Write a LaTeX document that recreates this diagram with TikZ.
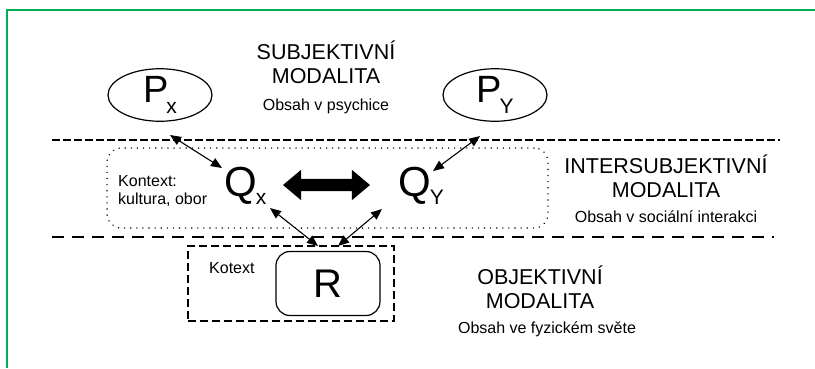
\documentclass[tikz,border=0pt]{standalone}
\usepackage{fontspec}
\setmainfont{Liberation Sans}
\usetikzlibrary{shapes.geometric,shapes.arrows,arrows.meta}
\definecolor{framegreen}{RGB}{0,176,80}
\begin{document}
\begin{tikzpicture}[x=1pt,y=-1pt,
  % multi-line nodes: anchor=base sits on the baseline of the last line
  heading/.style={font=\fontsize{21.5}{23.5}\selectfont, align=center, inner sep=0, anchor=base},
  note/.style={font=\fontsize{16}{17.5}\selectfont, inner sep=0, anchor=base},
  oval/.style={ellipse, draw, line width=1.2pt, minimum width=104pt, minimum height=52pt, inner sep=0},
  bigletter/.style={font=\fontsize{42}{42}\selectfont, inner sep=0},
  link/.style={{Triangle[length=11pt,width=9pt]}-{Triangle[length=11pt,width=9pt]}, line width=1.1pt},
  divider/.style={line width=1.5pt},
]
\useasboundingbox (0,0) rectangle (815,368);
\fill[white] (0,0) rectangle (815,368);
% frame
\draw[framegreen, line width=2.2pt] (7,368) -- (7,10) -- (815,10);

% modality boundaries
\draw[divider, dash pattern=on 8pt off 3pt] (52,140) -- (780,140);
\draw[divider, dash pattern=on 12pt off 8pt] (52,237) -- (774,237);

% context and cotext frames
\node[draw, line width=1.5pt, dash pattern=on 0.1pt off 6pt, line cap=round, rounded corners=14pt,
      minimum width=441pt, minimum height=80pt, inner sep=0] (ctxbox) at (327.5,188) {};
\node[draw, line width=1.2pt, dash pattern=on 8pt off 4pt,
      minimum width=206pt, minimum height=75pt, inner sep=0] (kotbox) at (291,283.5) {};
\node[note, align=left, anchor=base west] (ctx) at (118,204) {Kontext:\\kultura, obor};
\node[note, anchor=base west] (kot) at (209,273) {Kotext};

% modality labels
\node[heading] (subj) at (326,83) {SUBJEKTIVNÍ\\MODALITA};
\node[note] (subjn) at (326,110) {Obsah v psychice};
\node[heading] (inter) at (666,197) {INTERSUBJEKTIVNÍ\\MODALITA};
\node[note] (intern) at (666,222) {Obsah v sociální interakci};
\node[heading] (obj) at (540,308) {OBJEKTIVNÍ\\MODALITA};
\node[note] (objn) at (547,333) {Obsah ve fyzickém světe};

% psychic contents
\node[oval] (Px) at (160,95) {\fontsize{38}{38}\selectfont P\kern-2pt\raisebox{-11pt}{\fontsize{21}{21}\selectfont x}};
\node[oval] (Py) at (495,95) {\fontsize{38}{38}\selectfont P\kern-2pt\raisebox{-11pt}{\fontsize{21}{21}\selectfont Y}};

% social contents
\node[bigletter, anchor=base west] (Qx) at (224,196) {Q\kern-1pt\raisebox{-8pt}{\fontsize{21}{21}\selectfont x}};
\node[bigletter, anchor=base west] (Qy) at (398,196) {Q\kern-1pt\raisebox{-8pt}{\fontsize{21}{21}\selectfont Y}};

% physical referent
\node[draw, line width=1.2pt, rounded corners=14pt, minimum width=104pt, minimum height=64pt,
      inner sep=0, font=\fontsize{40}{40}\selectfont] (R) at (328,283.5) {R};

% exchange between the two social contents
\node[double arrow, fill=black, draw=none, minimum height=87pt, minimum width=30pt,
      inner sep=6pt, double arrow head extend=9pt, double arrow tip angle=80] (exch) at (326.5,185) {};

% connector ends
\coordinate (pxa) at (170,135);
\coordinate (qxa) at (222,168);
\coordinate (pya) at (480,136);
\coordinate (qya) at (433,171);
\coordinate (qxb) at (270,208);
\coordinate (ra) at (318,246);
\coordinate (qyb) at (382,209);
\coordinate (rb) at (338,246);

\draw[link] (pxa) -- (qxa);
\draw[link] (pya) -- (qya);
\draw[link] (qxb) -- (ra);
\draw[link] (qyb) -- (rb);
\end{tikzpicture}
\end{document}
